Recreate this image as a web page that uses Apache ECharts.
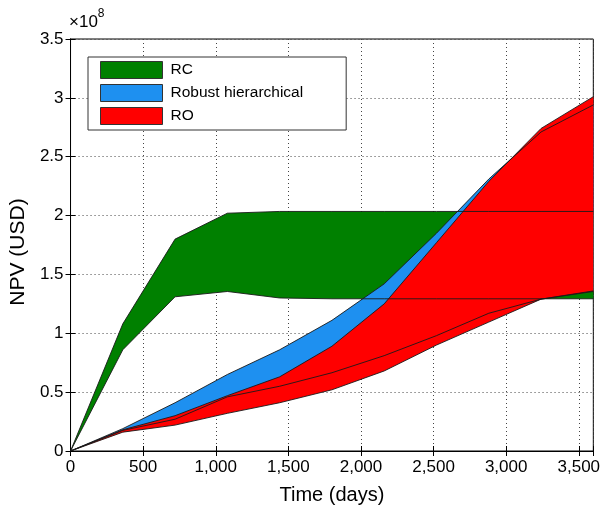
<!DOCTYPE html>
<html>
<head>
<meta charset="utf-8">
<script src="https://cdn.jsdelivr.net/npm/echarts@6/dist/echarts.min.js"></script>
<style>
html,body{margin:0;padding:0;background:#fff;}
#chart{width:603px;height:510px;}
</style>
</head>
<body>
<div id="chart"></div>
<script>
// Time (days) sample points
const days = [0, 360, 720, 1080, 1440, 1800, 2160, 2520, 2880, 3240, 3600];
// NPV bands in units of 1e8 USD
const rcUpper     = [0, 1.08, 1.80, 2.02, 2.035, 2.035, 2.035, 2.035, 2.035, 2.035, 2.035];
const rcLower     = [0, 0.86, 1.31, 1.355, 1.30, 1.293, 1.293, 1.293, 1.293, 1.293, 1.293];
const robustUpper = [0, 0.19, 0.41, 0.65, 0.86, 1.11, 1.42, 1.85, 2.31, 2.71, 2.94];
const robustLower = [0, 0.175, 0.27, 0.46, 0.55, 0.665, 0.81, 0.98, 1.17, 1.29, 1.36];
const roUpper     = [0, 0.18, 0.30, 0.47, 0.63, 0.89, 1.25, 1.77, 2.29, 2.74, 3.01];
const roLower     = [0, 0.16, 0.22, 0.32, 0.41, 0.52, 0.68, 0.90, 1.095, 1.29, 1.355];

const xTicks = [0, 500, 1000, 1500, 2000, 2500, 3000, 3500];
const yTicks = [0, 0.5, 1, 1.5, 2, 2.5, 3, 3.5];
const seriesNames = ['RC', 'Robust hierarchical', 'RO'];
const seriesColors = ['#008000', '#1e90f0', '#ff0000'];

const FONT = 'Liberation Sans, Arial, Helvetica, sans-serif';
const EDGE = '#1a1a1a';

function band(name, color, upper, lower, z) {
  return {
    type: 'custom',
    name: name,
    coordinateSystem: 'cartesian2d',
    silent: true,
    z: z,
    itemStyle: { color: color },
    encode: { x: 0, y: 1 },
    data: [[days[0], upper[0]]],
    renderItem: function (params, api) {
      const pts = [];
      for (let i = 0; i < days.length; i++) pts.push(api.coord([days[i], upper[i]]));
      for (let i = days.length - 1; i >= 0; i--) pts.push(api.coord([days[i], lower[i]]));
      return { type: 'polygon', shape: { points: pts }, style: { fill: color } };
    }
  };
}

function edge(arr) {
  return {
    type: 'line',
    silent: true,
    symbol: 'none',
    z: 10,
    lineStyle: { color: EDGE, width: 0.9 },
    data: days.map((d, i) => [d, arr[i]])
  };
}

const chart = echarts.init(document.getElementById('chart'), null, { renderer: 'canvas' });

const axisCommon = {
  axisLine: { show: true, lineStyle: { color: '#000', width: 1 } },
  axisTick: { show: true, inside: true, length: 5, lineStyle: { color: '#000' } }
};

chart.setOption({
  animation: false,
  backgroundColor: '#fff',
  grid: { left: 68, right: 9, top: 39, bottom: 58, show: true, borderColor: '#000', borderWidth: 1, backgroundColor: 'transparent' },
  legend: {
    data: seriesNames.map(n => ({ name: n, icon: 'rect' })),
    orient: 'vertical',
    left: 88, top: 57,
    itemWidth: 62, itemHeight: 17, itemGap: 5,
    padding: [4, 43, 5, 12],
    borderColor: '#333', borderWidth: 1,
    backgroundColor: '#fff',
    itemStyle: { borderColor: '#333', borderWidth: 1 },
    textStyle: { fontFamily: FONT, fontSize: 15.5, color: '#000', padding: [0, 0, 0, 3] },
    selectedMode: false
  },
  graphic: [{
    type: 'text', left: 69, top: 8,
    style: {
      text: '{a|×10}{b|8}',
      rich: {
        a: { fontFamily: FONT, fontSize: 17, fill: '#000', lineHeight: 23, verticalAlign: 'bottom' },
        b: { fontFamily: FONT, fontSize: 12, fill: '#000', verticalAlign: 'top', lineHeight: 14 }
      }
    }
  }],
  xAxis: [
    Object.assign({
      type: 'value', min: 0, max: 3600, interval: 500, position: 'bottom',
      name: 'Time (days)', nameLocation: 'middle', nameGap: 34,
      nameTextStyle: { fontFamily: FONT, fontSize: 20, color: '#000' },
      axisLabel: {
        fontFamily: FONT, fontSize: 17, color: '#000', margin: 8,
        formatter: v => xTicks.indexOf(v) >= 0 ? v.toLocaleString('en-US') : ''
      },
      splitLine: { show: true, lineStyle: { color: '#444', type: [1, 3], width: 1 } }
    }, axisCommon),
    Object.assign({
      type: 'value', min: 0, max: 3600, interval: 500, position: 'top',
      axisLabel: { show: false }, splitLine: { show: false }
    }, axisCommon)
  ],
  yAxis: [
    Object.assign({
      type: 'value', min: 0, max: 3.5, interval: 0.5, position: 'left',
      name: 'NPV (USD)', nameLocation: 'middle', nameGap: 31,
      nameTextStyle: { fontFamily: FONT, fontSize: 21, color: '#000', padding: [0, 14, 0, 0] },
      axisLabel: {
        fontFamily: FONT, fontSize: 17, color: '#000', margin: 7,
        formatter: v => yTicks.indexOf(v) >= 0 ? String(v) : ''
      },
      splitLine: { show: true, lineStyle: { color: '#444', type: [1, 3], width: 1 } }
    }, axisCommon),
    Object.assign({
      type: 'value', min: 0, max: 3.5, interval: 0.5, position: 'right',
      axisLabel: { show: false }, splitLine: { show: false }
    }, axisCommon)
  ],
  series: [
    band(seriesNames[0], seriesColors[0], rcUpper, rcLower, 2),
    band(seriesNames[1], seriesColors[1], robustUpper, robustLower, 3),
    band(seriesNames[2], seriesColors[2], roUpper, roLower, 4),
    edge(rcUpper), edge(rcLower),
    edge(robustUpper), edge(robustLower),
    edge(roUpper), edge(roLower)
  ]
});
</script>
</body>
</html>
